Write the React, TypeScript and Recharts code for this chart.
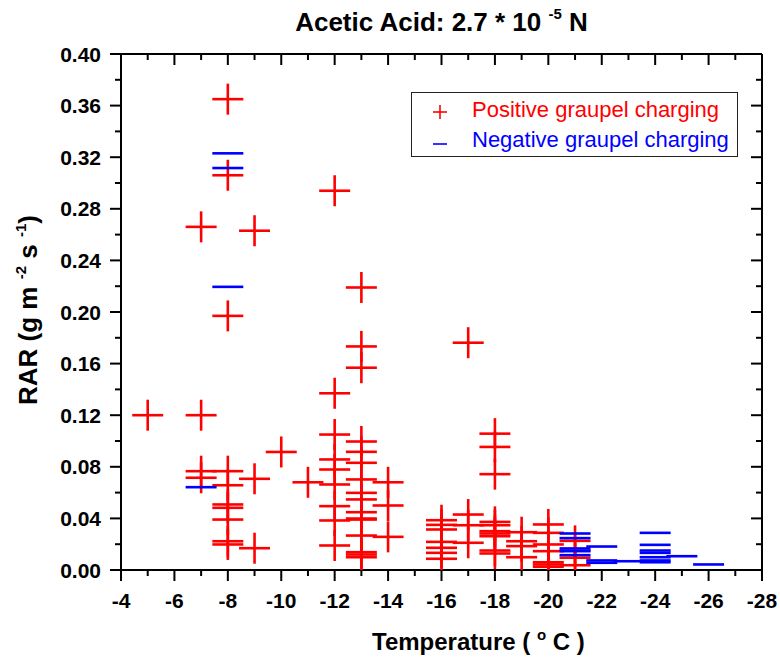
import React from 'react';
import { ScatterChart, Scatter, XAxis, YAxis, Legend } from 'recharts';

// Temperature axis ticks (°C), every degree; labels on even degrees
const xTicks = [-4, -5, -6, -7, -8, -9, -10, -11, -12, -13, -14, -15, -16, -17, -18, -19, -20, -21, -22, -23, -24, -25, -26, -27, -28];
// RAR axis ticks, minor every 0.02, labels every 0.04
const yTicks = [0, 0.02, 0.04, 0.06, 0.08, 0.1, 0.12, 0.14, 0.16, 0.18, 0.2, 0.22, 0.24, 0.26, 0.28, 0.3, 0.32, 0.34, 0.36, 0.38, 0.4];

const seriesNames = ['Positive graupel charging', 'Negative graupel charging'];

// Positive graupel charging
const positiveTemperature = [
  -5,
  -7, -7, -7, -7,
  -8, -8, -8, -8, -8, -8, -8, -8, -8, -8,
  -9, -9, -9,
  -10,
  -11,
  -12, -12, -12, -12, -12, -12, -12, -12, -12,
  -13, -13, -13, -13, -13, -13, -13, -13, -13, -13, -13, -13, -13, -13, -13, -13,
  -14, -14, -14,
  -16, -16, -16, -16, -16, -16, -16,
  -17, -17, -17, -17,
  -18, -18, -18, -18, -18, -18, -18, -18, -18, -18,
  -19, -19, -19, -19,
  -20, -20, -20, -20, -20, -20, -20,
  -21, -21, -21, -21,
];
const positiveRAR = [
  0.120,
  0.266, 0.120, 0.0766, 0.0715,
  0.365, 0.306, 0.197, 0.0766, 0.0657, 0.0508, 0.0482, 0.0391, 0.0223, 0.0198,
  0.263, 0.0707, 0.0169,
  0.0915,
  0.068,
  0.294, 0.137, 0.105, 0.0857, 0.0779, 0.0663, 0.0495, 0.0384, 0.019,
  0.219, 0.1733, 0.1568, 0.0996, 0.0916, 0.0831, 0.0702, 0.0598, 0.0547, 0.0448, 0.0399, 0.0391, 0.0267, 0.0138, 0.012, 0.0099,
  0.068, 0.050, 0.0257,
  0.0386, 0.035, 0.0314, 0.0218, 0.0172, 0.0133, 0.0087,
  0.1762, 0.043, 0.0347, 0.0211,
  0.1057, 0.0954, 0.0743, 0.0373, 0.0347, 0.0301, 0.0283, 0.0262, 0.0151, 0.0128,
  0.0293, 0.0223, 0.0185, 0.0099,
  0.0353, 0.0288, 0.0198, 0.0146, 0.006, 0.0043, 0.0025,
  0.0226, 0.0151, 0.0095, 0.0037,
];

// Negative graupel charging
const negativeTemperature = [
  -7,
  -8, -8, -8,
  -21, -21, -21, -21, -21,
  -22, -22, -22,
  -23,
  -24, -24, -24, -24, -24, -24, -24,
  -25,
  -26,
];
const negativeRAR = [
  0.0642,
  0.323, 0.3116, 0.2195,
  0.0283, 0.0247, 0.0167, 0.0146, 0.0115,
  0.0182, 0.0074, 0.0056,
  0.0068,
  0.0288, 0.0195, 0.0151, 0.0133, 0.0099, 0.0074, 0.006,
  0.0107,
  0.0043,
];

const positiveData = positiveTemperature.map((t, i) => ({ t, rar: positiveRAR[i] }));
const negativeData = negativeTemperature.map((t, i) => ({ t, rar: negativeRAR[i] }));

const RED = '#ff0000';
const BLUE = '#0000ff';
const FONT = "'Liberation Sans', Arial, Helvetica, sans-serif";

const PlusShape = (props: any) => {
  const { cx, cy } = props;
  if (cx == null || cy == null) return null;
  const h = 15.5;
  return (
    <g>
      <line x1={cx - h} x2={cx + h} y1={cy} y2={cy} stroke={RED} strokeWidth={2.6} />
      <line x1={cx} x2={cx} y1={cy - h} y2={cy + h} stroke={RED} strokeWidth={2.6} />
    </g>
  );
};

const DashShape = (props: any) => {
  const { cx, cy } = props;
  if (cx == null || cy == null) return null;
  const h = 15.5;
  return <line x1={cx - h} x2={cx + h} y1={cy} y2={cy} stroke={BLUE} strokeWidth={2.6} />;
};

const isMajorX = (v: number) => Math.round(v) % 2 === 0;
const isMajorY = (v: number) => Math.round(v * 100) % 4 === 0;

const BottomTick = (props: any) => {
  const { x, y, payload } = props;
  const v = payload.value;
  const major = isMajorX(v);
  return (
    <g>
      <line x1={x} x2={x} y1={y} y2={y + (major ? 11 : 6)} stroke="#000" strokeWidth={2} />
      {major && (
        <text x={x} y={y + 38} textAnchor="middle" fontFamily={FONT} fontWeight="bold" fontSize={21} fill="#000">
          {String(v)}
        </text>
      )}
    </g>
  );
};

const TopTick = (props: any) => {
  const { x, y, payload } = props;
  const major = isMajorX(payload.value);
  return <line x1={x} x2={x} y1={y} y2={y + (major ? 11 : 6)} stroke="#000" strokeWidth={2} />;
};

const LeftTick = (props: any) => {
  const { x, y, payload } = props;
  const v = payload.value;
  const major = isMajorY(v);
  return (
    <g>
      <line x1={x - (major ? 11 : 6)} x2={x} y1={y} y2={y} stroke="#000" strokeWidth={2} />
      {major && (
        <text x={x - 20} y={y + 7.5} textAnchor="end" fontFamily={FONT} fontWeight="bold" fontSize={21} fill="#000">
          {v.toFixed(2)}
        </text>
      )}
    </g>
  );
};

const RightTick = (props: any) => {
  const { x, y, payload } = props;
  const major = isMajorY(payload.value);
  return <line x1={x - (major ? 11 : 6)} x2={x} y1={y} y2={y} stroke="#000" strokeWidth={2} />;
};

const LegendContent = (props: any) => {
  const { payload } = props;
  const items = ([...(payload || [])] as any[]).sort(
    (a, b) => seriesNames.indexOf(a.value) - seriesNames.indexOf(b.value)
  );
  return (
    <div
      style={{
        position: 'relative',
        width: 327,
        height: 65,
        boxSizing: 'border-box',
        border: '1.5px solid #222',
        background: '#fff',
        fontFamily: FONT,
      }}
    >
      {items.map((it: any, i: number) => {
        const color = it.color;
        const positive = it.value === seriesNames[0];
        return (
          <div key={i} style={{ position: 'absolute', left: 0, top: 6 + i * 30, height: 22, width: '100%' }}>
            <svg width={20} height={22} style={{ position: 'absolute', left: 18, top: 0 }}>
              <line x1={3} x2={17} y1={positive ? 13 : 15} y2={positive ? 13 : 15} stroke={color} strokeWidth={1.6} />
              {positive && <line x1={10} x2={10} y1={6} y2={20} stroke={color} strokeWidth={1.6} />}
            </svg>
            <span
              style={{
                position: 'absolute',
                left: 60,
                top: 0,
                fontSize: 22,
                lineHeight: '22px',
                color,
                whiteSpace: 'nowrap',
              }}
            >
              {it.value}
            </span>
          </div>
        );
      })}
    </div>
  );
};

const supStyle = (size: number, lift: number) => ({
  fontSize: size,
  verticalAlign: 'baseline' as const,
  position: 'relative' as const,
  top: -lift,
});

export default function App() {
  return (
    <div style={{ position: 'relative', width: 780, height: 664, background: '#fff', fontFamily: FONT }}>
      <style>{'body{margin:0;background:#fff;}'}</style>
      <ScatterChart width={780} height={664} margin={{ top: 0, right: 0, bottom: 0, left: 0 }}>
        <XAxis
          xAxisId="bottom"
          dataKey="t"
          type="number"
          domain={[-28, -4]}
          reversed
          allowDataOverflow
          ticks={xTicks}
          interval={0}
          height={94}
          orientation="bottom"
          tickSize={0}
          tickMargin={0}
          tickLine={false}
          tick={<BottomTick />}
          axisLine={{ stroke: '#000', strokeWidth: 2 }}
        />
        <XAxis
          xAxisId="top"
          dataKey="t"
          type="number"
          domain={[-28, -4]}
          reversed
          allowDataOverflow
          ticks={xTicks}
          interval={0}
          height={54}
          orientation="top"
          tickSize={0}
          tickMargin={0}
          tickLine={false}
          tick={<TopTick />}
          axisLine={{ stroke: '#000', strokeWidth: 2 }}
        />
        <YAxis
          yAxisId="left"
          dataKey="rar"
          type="number"
          domain={[0, 0.4]}
          allowDataOverflow
          ticks={yTicks}
          interval={0}
          width={121}
          orientation="left"
          tickSize={0}
          tickMargin={0}
          tickLine={false}
          tick={<LeftTick />}
          axisLine={{ stroke: '#000', strokeWidth: 2 }}
        />
        <YAxis
          yAxisId="right"
          dataKey="rar"
          type="number"
          domain={[0, 0.4]}
          allowDataOverflow
          ticks={yTicks}
          interval={0}
          width={18}
          orientation="right"
          tickSize={0}
          tickMargin={0}
          tickLine={false}
          tick={<RightTick />}
          axisLine={{ stroke: '#000', strokeWidth: 2 }}
        />
        <Legend
          layout="vertical"
          align="center"
          verticalAlign="middle"
          content={<LegendContent />}
          wrapperStyle={{ left: 411, top: 92, width: 327, height: 65 }}
        />
        <Scatter
          name={seriesNames[0]}
          data={positiveData}
          xAxisId="bottom"
          yAxisId="left"
          fill={RED}
          shape={<PlusShape />}
          isAnimationActive={false}
        />
        <Scatter
          name={seriesNames[1]}
          data={negativeData}
          xAxisId="bottom"
          yAxisId="left"
          fill={BLUE}
          shape={<DashShape />}
          isAnimationActive={false}
        />
      </ScatterChart>

      <div
        style={{
          position: 'absolute',
          left: 121,
          width: 641,
          top: 9,
          textAlign: 'center',
          fontSize: 26,
          lineHeight: '26px',
          fontWeight: 'bold',
          whiteSpace: 'nowrap',
        }}
      >
        Acetic Acid: 2.7 * 10 <sup style={supStyle(15, 12)}>-5</sup> N
      </div>

      <div
        style={{
          position: 'absolute',
          left: 372,
          top: 630,
          fontSize: 24,
          lineHeight: '24px',
          fontWeight: 'bold',
          whiteSpace: 'nowrap',
        }}
      >
        Temperature ( <sup style={supStyle(15, 10)}>o</sup> C )
      </div>

      <div
        style={{
          position: 'absolute',
          left: 30,
          top: 310,
          transform: 'translate(-50%, -50%) rotate(-90deg)',
          fontSize: 26,
          lineHeight: '26px',
          fontWeight: 'bold',
          whiteSpace: 'nowrap',
        }}
      >
        RAR (g m <sup style={supStyle(15, 11)}>-2</sup> s <sup style={supStyle(15, 11)}>-1</sup>)
      </div>
    </div>
  );
}
